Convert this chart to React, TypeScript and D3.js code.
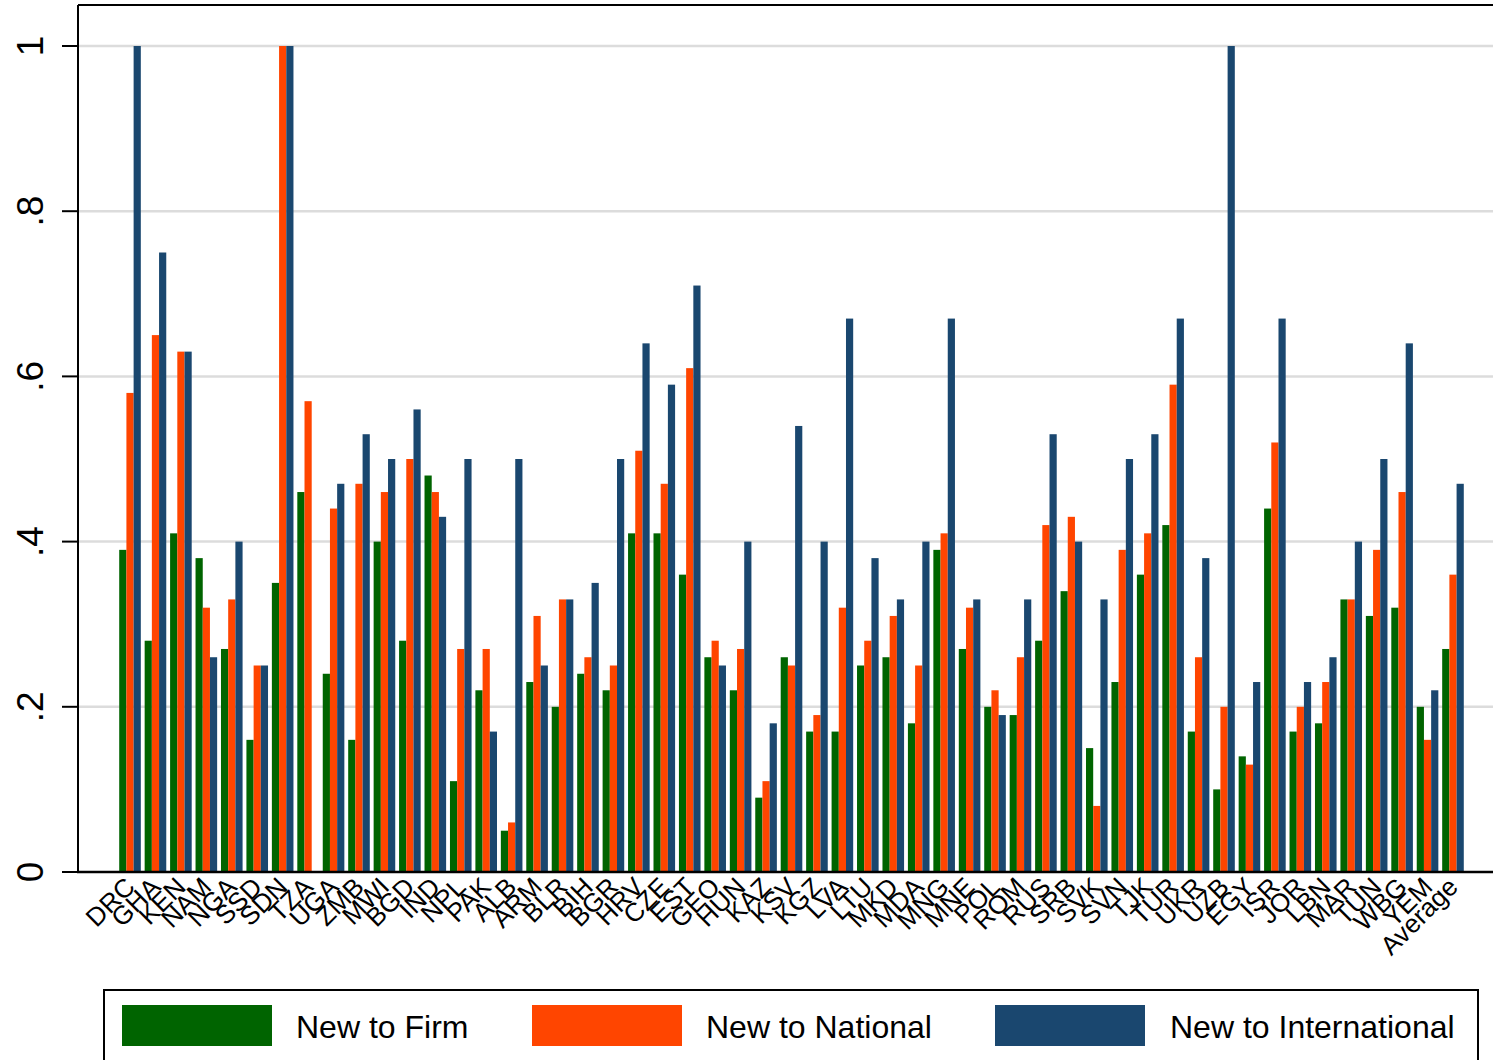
import React from "react";
import * as d3 from "d3";

const categories = ["DRC","GHA","KEN","NAM","NGA","SSD","SDN","TZA","UGA","ZMB","MWI","BGD","IND","NPL","PAK","ALB","ARM","BLR","BIH","BGR","HRV","CZE","EST","GEO","HUN","KAZ","KSV","KGZ","LVA","LTU","MKD","MDA","MNG","MNE","POL","ROM","RUS","SRB","SVK","SVN","TJK","TUR","UKR","UZB","EGY","ISR","JOR","LBN","MAR","TUN","WBG","YEM","Average"];

const newToFirm = [.39,.28,.41,.38,.27,.16,.35,.46,.24,.16,.40,.28,.48,.11,.22,.05,.23,.20,.24,.22,.41,.41,.36,.26,.22,.09,.26,.17,.17,.25,.26,.18,.39,.27,.20,.19,.28,.34,.15,.23,.36,.42,.17,.10,.14,.44,.17,.18,.33,.31,.32,.20,.27];

const newToNational = [.58,.65,.63,.32,.33,.25,1.0,.57,.44,.47,.46,.50,.46,.27,.27,.06,.31,.33,.26,.25,.51,.47,.61,.28,.27,.11,.25,.19,.32,.28,.31,.25,.41,.32,.22,.26,.42,.43,.08,.39,.41,.59,.26,.20,.13,.52,.20,.23,.33,.39,.46,.16,.36];

const newToInternational: (number | null)[] = [1.0,.75,.63,.26,.40,.25,1.0,null,.47,.53,.50,.56,.43,.50,.17,.50,.25,.33,.35,.50,.64,.59,.71,.25,.40,.18,.54,.40,.67,.38,.33,.40,.67,.33,.19,.33,.53,.40,.33,.50,.53,.67,.38,1.0,.23,.67,.23,.26,.40,.50,.64,.22,.47];

const seriesNames = ["New to Firm", "New to National", "New to International"];
const seriesValues = [newToFirm, newToNational, newToInternational];
const seriesColors = ["#006400", "#ff4500", "#1a476f"];

const yTicks = [0, 0.2, 0.4, 0.6, 0.8, 1];
const yTickLabels = ["0", ".2", ".4", ".6", ".8", "1"];

const W = 1493;
const H = 1060;
const FONT = "'Liberation Sans', Arial, Helvetica, sans-serif";

export default function App() {
  const left = 78;
  const right = 1505;
  const top = 5;
  const bottom = 872;

  const y = d3.scaleLinear().domain([0, 1]).range([bottom, 46]);
  const x = d3
    .scaleBand<string>()
    .domain(categories)
    .range([left, right])
    .paddingInner(0.151)
    .paddingOuter(1.62);
  const xs = d3
    .scaleBand<string>()
    .domain(seriesNames)
    .range([0, x.bandwidth()])
    .padding(0);

  const legendSwatchX = [122, 532, 995];
  const legendTextX = [296, 706, 1170];

  return (
    <svg
      width={W}
      height={H}
      style={{ position: "absolute", left: 0, top: 0, background: "#fff" }}
      fontFamily={FONT}
    >
      <rect x={0} y={0} width={W} height={H} fill="#fff" />
      {/* gridlines */}
      {yTicks.slice(1).map((t) => (
        <line
          key={"g" + t}
          x1={left}
          x2={right}
          y1={y(t)}
          y2={y(t)}
          stroke="#dcdcdc"
          strokeWidth={2.5}
        />
      ))}
      {/* bars */}
      {categories.map((c, i) => (
        <g key={c} transform={`translate(${x(c)},0)`}>
          {seriesValues.map((vals, s) => {
            const v = vals[i];
            if (v == null) return null;
            return (
              <rect
                key={s}
                x={xs(seriesNames[s])}
                y={y(v)}
                width={xs.bandwidth()}
                height={y(0) - y(v)}
                fill={seriesColors[s]}
              />
            );
          })}
        </g>
      ))}
      {/* frame */}
      <line x1={left} x2={right} y1={top} y2={top} stroke="#000" strokeWidth={2} />
      <line x1={left} x2={left} y1={top} y2={bottom} stroke="#000" strokeWidth={2} />
      <line x1={left - 1} x2={right} y1={bottom} y2={bottom} stroke="#000" strokeWidth={2.5} />
      {/* y axis ticks & labels */}
      {yTicks.map((t, i) => (
        <g key={"t" + t}>
          <line x1={62} x2={left} y1={y(t)} y2={y(t)} stroke="#000" strokeWidth={2} />
          <text
            transform={`translate(43,${y(t)}) rotate(-90)`}
            textAnchor="middle"
            fontSize={37}
            fill="#000"
          >
            {yTickLabels[i]}
          </text>
        </g>
      ))}
      {/* x labels */}
      {categories.map((c) => {
        const cx = (x(c) as number) + x.bandwidth() / 2;
        return (
          <text
            key={"l" + c}
            transform={`translate(${cx},882) rotate(-45)`}
            textAnchor="end"
            dy="0.35em"
            fontSize={26}
            fill="#000"
          >
            {c}
          </text>
        );
      })}
      {/* legend */}
      <rect x={104} y={990} width={1374} height={100} fill="#fff" stroke="#000" strokeWidth={2} />
      {seriesNames.map((n, i) => (
        <g key={"lg" + n}>
          <rect x={legendSwatchX[i]} y={1005} width={150} height={41} fill={seriesColors[i]} />
          <text x={legendTextX[i]} y={1038} fontSize={32} fill="#000">
            {n}
          </text>
        </g>
      ))}
    </svg>
  );
}
